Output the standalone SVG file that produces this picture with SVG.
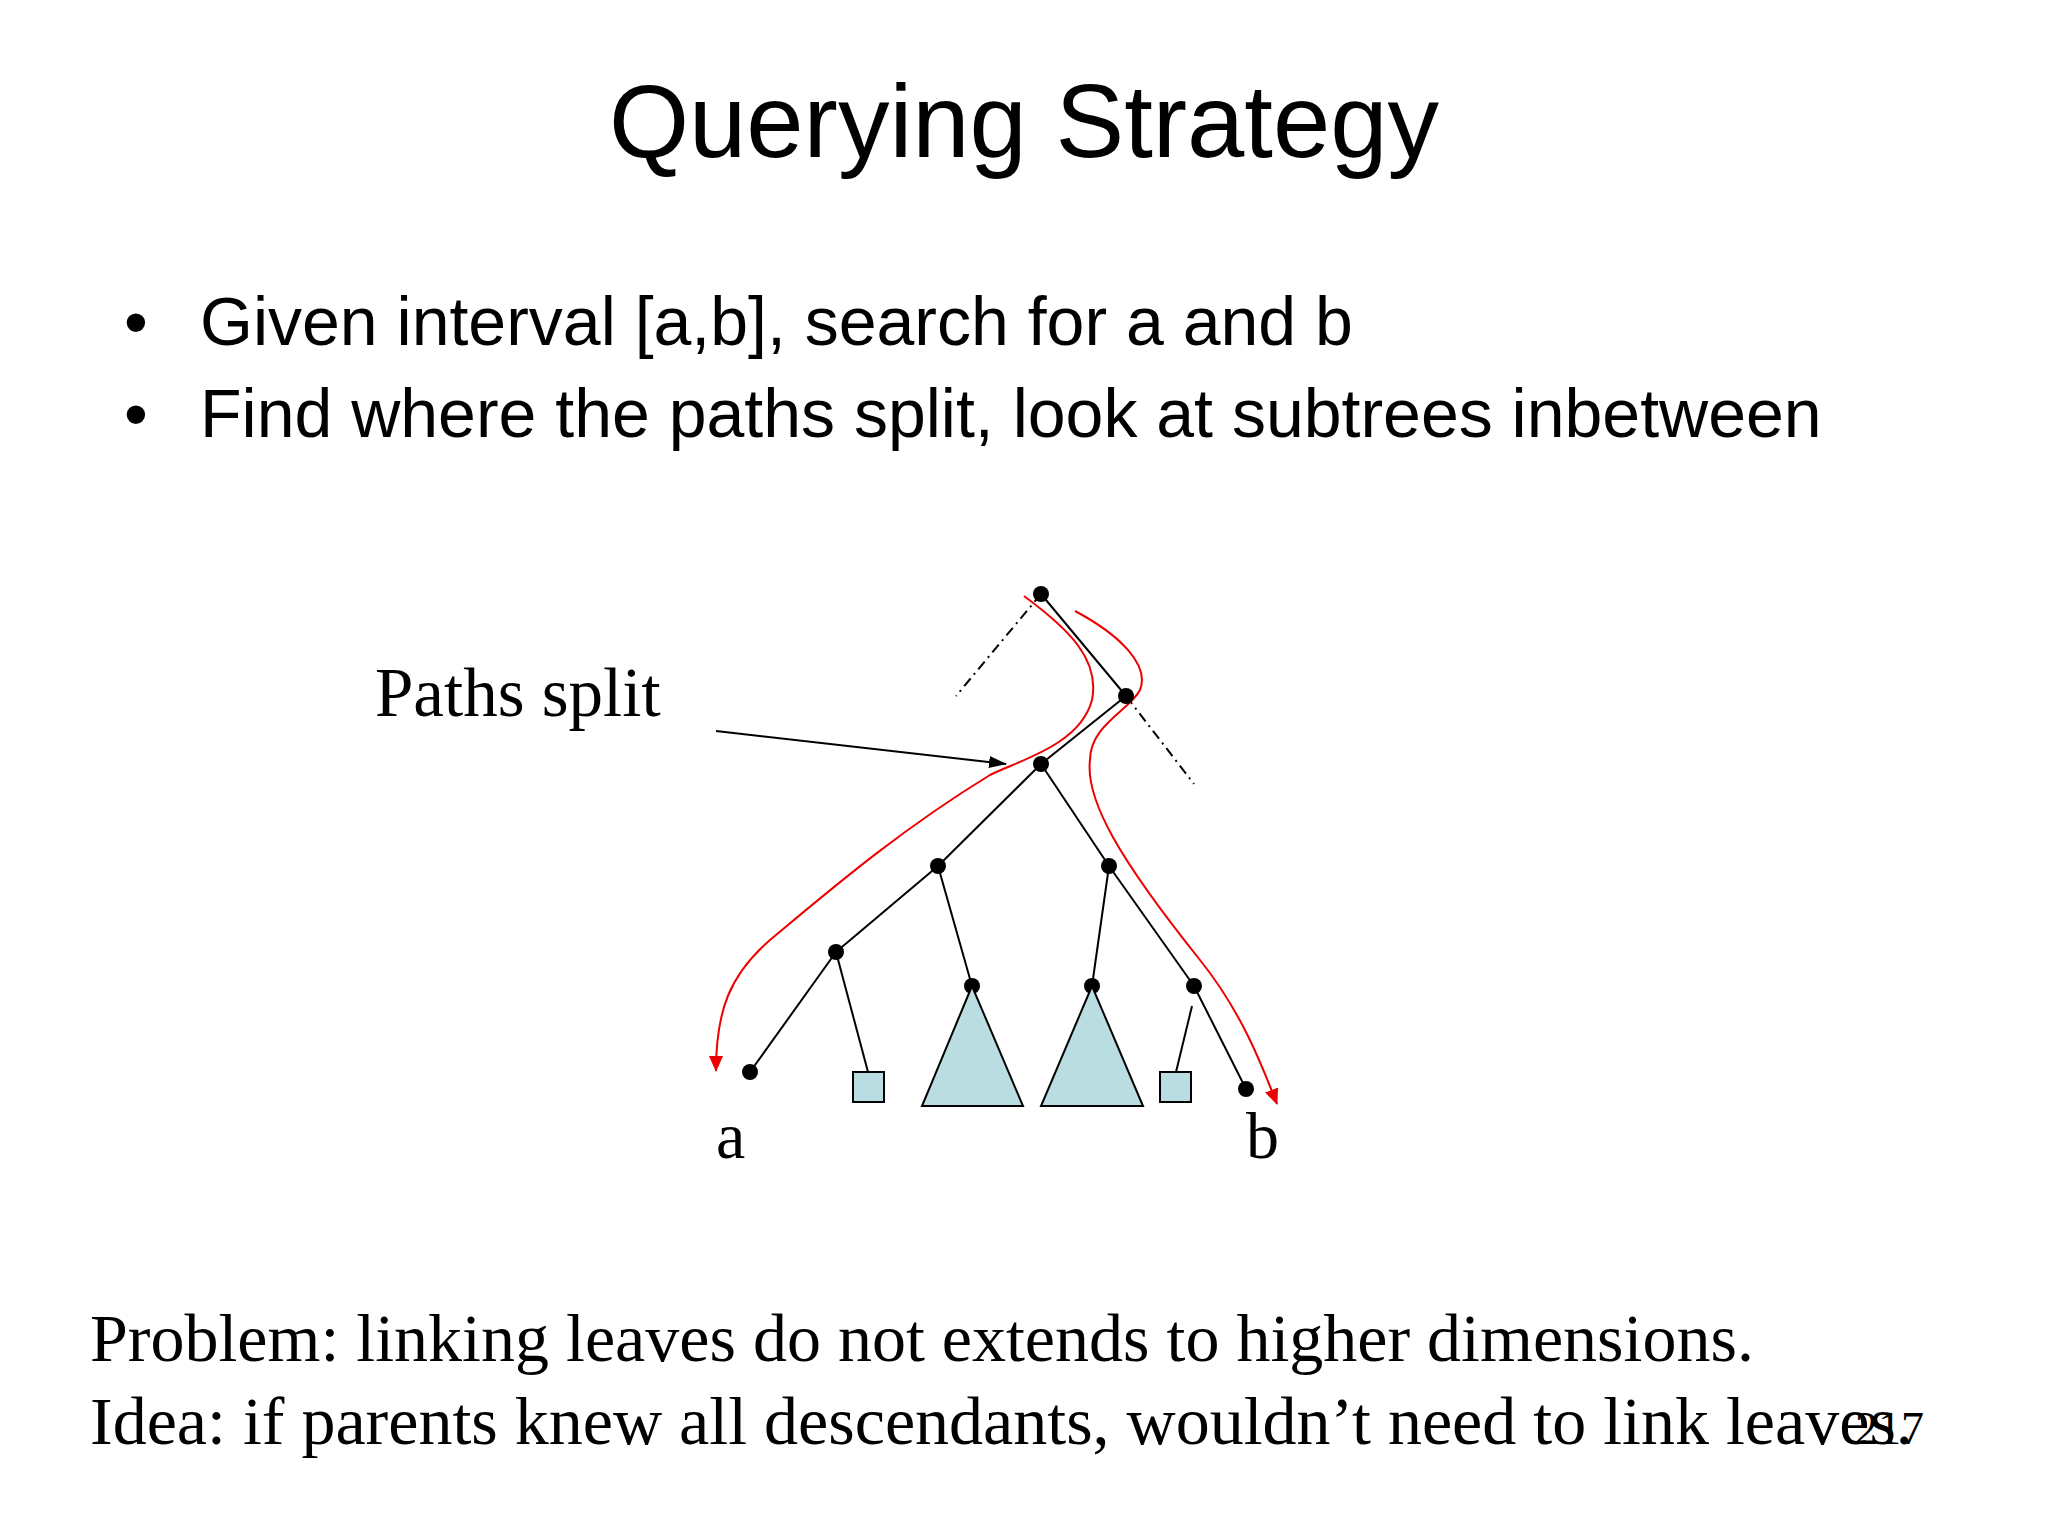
<svg xmlns="http://www.w3.org/2000/svg" width="2048" height="1536" viewBox="0 0 2048 1536">
<style>
.s{font-family:"Liberation Sans",Arial,sans-serif;fill:#000}
.t{font-family:"Liberation Serif","Times New Roman",serif;fill:#000}
.e{stroke:#000;stroke-width:2;fill:none}
.d{stroke:#000;stroke-width:2;fill:none;stroke-dasharray:10,5,2,5}
.r{stroke:#e00;stroke-width:2;fill:none}
.sh{fill:#b9dde0;stroke:#000;stroke-width:2}
</style>
<defs>
<marker id="ar" markerWidth="16" markerHeight="14" refX="15" refY="7" orient="auto" markerUnits="userSpaceOnUse"><path d="M0,0L16,7L0,14z" fill="#e00"/></marker>
<marker id="ak" markerWidth="18" markerHeight="12" refX="17" refY="6" orient="auto" markerUnits="userSpaceOnUse"><path d="M0,0L18,6L0,12z" fill="#000"/></marker>
</defs>
<rect width="2048" height="1536" fill="#fff"/>
<text class="s" x="1024" y="157" font-size="103" text-anchor="middle">Querying Strategy</text>
<text class="s" x="124" y="345" font-size="68">•</text>
<text class="s" x="200" y="345" font-size="68">Given interval [a,b], search for a and b</text>
<text class="s" x="124" y="437" font-size="68">•</text>
<text class="s" x="200" y="437" font-size="68">Find where the paths split, look at subtrees inbetween</text>
<g id="connectors">
<line class="d" x1="1041" y1="594" x2="956" y2="696"/>
<line class="d" x1="1126" y1="696" x2="1194" y2="784"/>
<line class="e" x1="1041" y1="594" x2="1126" y2="696"/>
<line class="e" x1="1126" y1="696" x2="1041" y2="764"/>
<line class="e" x1="1041" y1="764" x2="938" y2="866"/>
<line class="e" x1="1041" y1="764" x2="1109" y2="866"/>
<line class="e" x1="938" y1="866" x2="836" y2="952"/>
<line class="e" x1="938" y1="866" x2="972" y2="986"/>
<line class="e" x1="1109" y1="866" x2="1092" y2="986"/>
<line class="e" x1="1109" y1="866" x2="1194" y2="986"/>
<line class="e" x1="836" y1="952" x2="750" y2="1072"/>
<line class="e" x1="836" y1="952" x2="868" y2="1072"/>
<line class="e" x1="1192" y1="1006" x2="1176" y2="1072"/>
<line class="e" x1="1194" y1="986" x2="1246" y2="1089"/>
<line class="e" x1="716" y1="731" x2="1006" y2="764" marker-end="url(#ak)"/>
<path class="r" d="M1024,596 C1070,630 1100,660 1092,700 C1080,745 1020,760 990,775 C900,830 830,890 770,940 C730,975 716,1010 716,1071" marker-end="url(#ar)"/>
<path class="r" d="M1075,611 C1120,635 1150,665 1140,690 C1130,710 1090,725 1090,760 C1085,800 1120,860 1200,960 C1240,1010 1260,1060 1277,1104" marker-end="url(#ar)"/>
</g>
<g id="nodes">
<circle cx="1041" cy="594" r="8"/>
<circle cx="1126" cy="696" r="8"/>
<circle cx="1041" cy="764" r="8"/>
<circle cx="938" cy="866" r="8"/>
<circle cx="1109" cy="866" r="8"/>
<circle cx="836" cy="952" r="8"/>
<circle cx="972" cy="986" r="8"/>
<circle cx="1092" cy="986" r="8"/>
<circle cx="1194" cy="986" r="8"/>
<circle cx="750" cy="1072" r="8"/>
<circle cx="1246" cy="1089" r="8"/>
<rect class="sh" x="853" y="1072" width="31" height="30"/>
<rect class="sh" x="1160" y="1072" width="31" height="30"/>
<polygon class="sh" points="972,986 922,1106 1023,1106"/>
<polygon class="sh" points="1092,986 1041,1106 1143,1106"/>
</g>
<text class="t" x="375" y="716" font-size="69">Paths split</text>
<text class="t" x="716" y="1158" font-size="66">a</text>
<text class="t" x="1246" y="1158" font-size="66">b</text>
<text class="t" x="90" y="1361" font-size="68">Problem: linking leaves do not extends to higher dimensions.</text>
<text class="t" x="90" y="1444" font-size="68">Idea: if parents knew all descendants, wouldn’t need to link leaves.</text>
<text class="t" x="1855" y="1444" font-size="46">217</text>
</svg>
